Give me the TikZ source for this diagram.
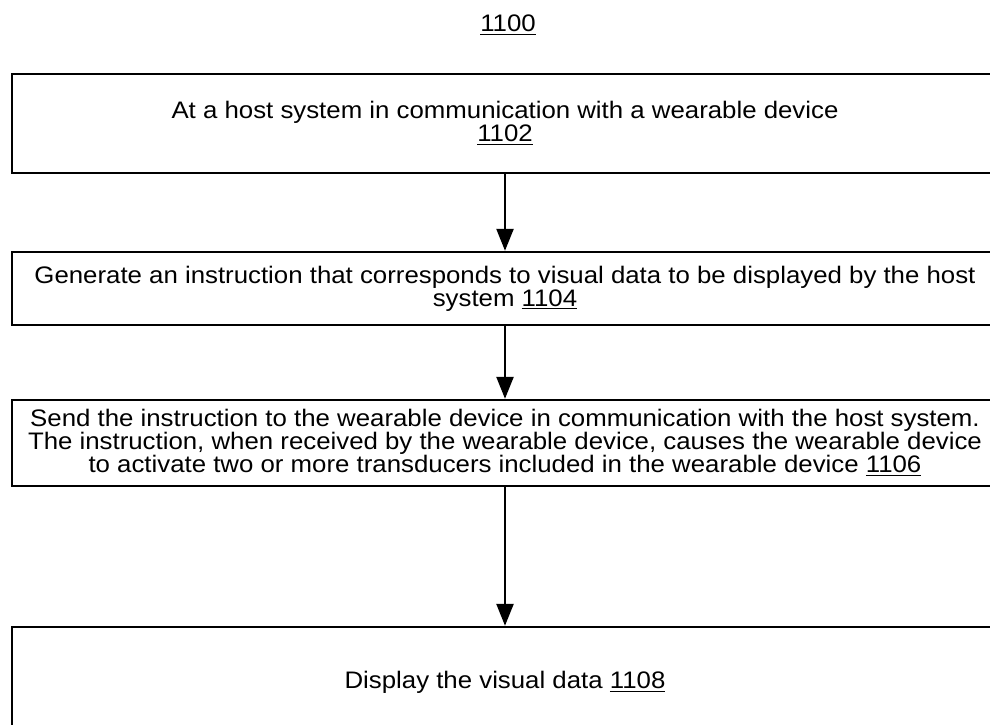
\documentclass[tikz,border=0pt]{standalone}
\usepackage{fontspec}
\setmainfont{Liberation Sans}[FakeStretch=1.08]
\usetikzlibrary{arrows.meta}
\begin{document}
\begin{tikzpicture}[x=0.02cm,y=-0.02cm]
    \tikzstyle{every node}+=[inner sep=0pt, font=\fontsize{13.6}{13}\selectfont]
    \tikzstyle{stepbox}=[draw=black, line width=1.4pt, minimum width=19.72cm, align=center]
    \tikzstyle{flow}=[line width=1.4pt, -{Triangle[width=0.34cm, length=0.44cm]}]
    \useasboundingbox (0,0) rectangle (990,724);
    \node (title) at (508,25) {\underline{1100}};
    \node [stepbox, minimum height=1.98cm] (s1102) at (505,123.5) {At a host system in communication with a wearable device\\\underline{1102}};
    \node [stepbox, minimum height=1.46cm] (s1104) at (505,288.5) {Generate an instruction that corresponds to visual data to be displayed by the host\\system \underline{1104}};
    \node [stepbox, minimum height=1.72cm] (s1106) at (505,443) {Send the instruction to the wearable device in communication with the host system.\\The instruction, when received by the wearable device, causes the wearable device\\to activate two or more transducers included in the wearable device \underline{1106}};
    \node [stepbox, minimum height=2.2cm] (s1108) at (505,682) {Display the visual data \underline{1108}};
    \draw [flow] (s1102) -- (s1104);
    \draw [flow] (s1104) -- (s1106);
    \draw [flow] (s1106) -- (s1108);
\end{tikzpicture}
\end{document}
